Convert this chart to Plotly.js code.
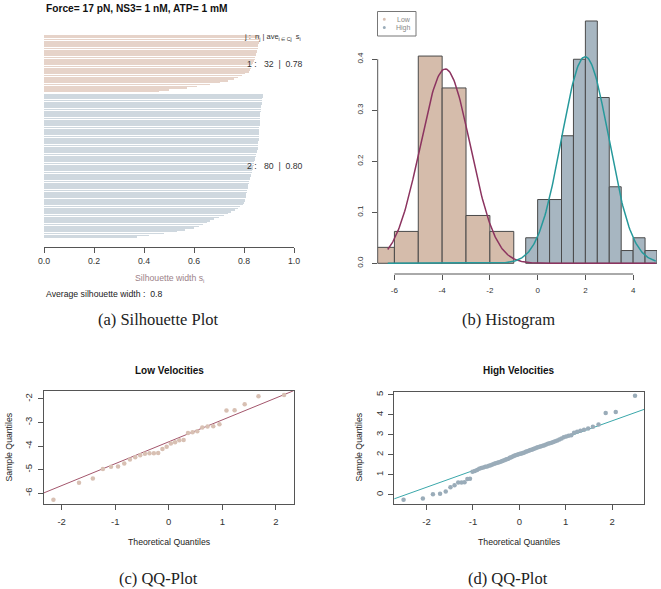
<!DOCTYPE html>
<html><head><meta charset="utf-8">
<script src="https://cdn.plot.ly/plotly-3.0.1.min.js"></script>
<style>html,body{margin:0;padding:0;background:#fff}#chart{width:661px;height:589px}</style>
</head><body><div id="chart"></div>
<script>
const W = 661, H = 589;

// ---- (a) silhouette widths, top to bottom ----
const silCluster1 = [0.862,0.861,0.860,0.859,0.858,0.857,0.856,0.854,0.852,0.850,0.848,0.846,0.844,0.842,
  0.838,0.835,0.832,0.829,0.826,0.822,0.818,0.805,0.790,0.775,0.760,0.735,0.705,0.665,0.610,0.570,0.500,0.460];
const silCluster2 = [0.875,0.874,0.873,0.872,0.871,0.870,0.869,0.868,0.867,0.866,
  0.865,0.865,0.864,0.864,0.863,0.863,0.862,0.862,0.861,0.861,0.860,0.860,0.859,0.859,0.858,0.858,0.857,0.857,0.856,0.856,0.855,
  0.853,0.851,0.849,0.847,0.845,0.843,0.841,0.840,0.838,
  0.836,0.834,0.832,0.830,0.828,0.826,0.824,0.822,
  0.820,0.818,0.817,0.815,0.814,0.812,0.811,0.809,0.808,0.806,0.805,
  0.805,0.800,0.795,0.785,0.775,0.762,0.748,0.735,0.720,0.700,0.680,0.665,0.650,0.635,0.620,0.600,0.565,0.530,0.480,0.420,0.370];
const silTicks = [0, 0.2, 0.4, 0.6, 0.8, 1.0];
const silTickText = ['0.0','0.2','0.4','0.6','0.8','1.0'];

// ---- (b)/(c)/(d) velocities (sorted sample quantiles) ----
const lowVel = [-6.28,-5.56,-5.38,-4.97,-4.88,-4.87,-4.74,-4.57,-4.47,-4.39,-4.33,-4.30,-4.30,-4.29,-4.12,-4.03,
  -3.89,-3.84,-3.75,-3.74,-3.45,-3.41,-3.37,-3.21,-3.17,-3.16,-3.07,-2.49,-2.48,-2.23,-1.89,-1.83];
const highVel = [-0.25,-0.18,0.03,0.05,0.17,0.38,0.48,0.62,0.62,0.63,0.79,0.80,
  1.15,1.19,1.24,1.30,1.34,1.37,1.40,1.42,1.45,1.48,
  1.52,1.55,1.58,1.60,1.63,1.66,1.69,1.72,1.75,1.78,1.81,1.85,1.88,1.92,1.95,1.98,
  2.01,2.03,2.05,2.07,2.09,2.12,2.15,2.18,2.21,2.24,2.26,2.29,2.32,2.35,2.38,2.41,2.43,2.46,2.48,
  2.52,2.55,2.58,2.61,2.64,2.68,2.72,2.77,2.82,2.88,2.92,2.95,2.98,
  3.10,3.15,3.20,3.26,3.32,3.41,
  3.52,4.09,4.14,4.95];
const lowTheo = [-2.154,-1.676,-1.418,-1.230,-1.078,-0.947,-0.831,-0.725,-0.626,-0.533,-0.445,-0.360,-0.278,-0.197,-0.118,-0.039,
  0.039,0.118,0.197,0.278,0.360,0.445,0.533,0.626,0.725,0.831,0.947,1.078,1.230,1.418,1.676,2.154];
const highTheo = [-2.496,-2.080,-1.863,-1.709,-1.587,-1.485,-1.397,-1.318,-1.247,-1.181,-1.120,-1.064,-1.010,-0.959,-0.911,-0.865,
  -0.820,-0.776,-0.734,-0.694,-0.655,-0.616,-0.579,-0.542,-0.507,-0.471,-0.437,-0.402,-0.369,-0.335,-0.302,-0.270,-0.237,-0.205,
  -0.173,-0.141,-0.110,-0.078,-0.047,-0.016,0.016,0.047,0.078,0.110,0.141,0.173,0.205,0.237,0.270,0.302,0.335,0.369,0.402,0.437,
  0.471,0.507,0.542,0.579,0.616,0.655,0.694,0.734,0.776,0.820,0.865,0.911,0.959,1.010,1.064,1.120,1.181,1.247,1.318,1.397,1.485,
  1.587,1.709,1.863,2.080,2.496];

// fitted normal (mean, sd) and qq-lines (intercept, slope)
const lowFit = [-3.87, 1.047];
const highFit = [1.99, 0.985];
const lowLine = [-3.82, 0.929];
const highLine = [2.04, 0.83];

const histXTicks = [-6,-4,-2,0,2,4];
const histXText = ['-6','-4','-2','0','2','4'];
const histYTicks = [0,0.1,0.2,0.3,0.4];
const histYText = ['0.0','0.1','0.2','0.3','0.4'];
const qqLowX = [-2,-1,0,1,2], qqLowXT = ['-2','-1','0','1','2'];
const qqLowY = [-6,-5,-4,-3,-2], qqLowYT = ['-6','-5','-4','-3','-2'];
const qqHighX = [-2,-1,0,1,2], qqHighXT = ['-2','-1','0','1','2'];
const qqHighY = [0,1,2,3,4,5], qqHighYT = ['0','1','2','3','4','5'];

const C_LOW_SIL = '#e6d3c9', C_HIGH_SIL = '#cfd8df';
const C_LOW_HIST = '#d5bcab', C_HIGH_HIST = '#a7b6c1';
const C_LOW_CURVE = '#8c3460', C_HIGH_CURVE = '#26999b';
const C_LOW_PT = '#d8c0b3', C_HIGH_PT = '#9aacb9';
const C_LOW_QQL = '#a3566c', C_HIGH_QQL = '#3aa7aa';
const AX = '#555';
const SANS = 'Liberation Sans, Arial, sans-serif';
const SERIF = 'Liberation Serif, Times New Roman, serif';

const px = v => v / W;
const py = v => 1 - v / H;

// silhouette bar positions
const silY1 = silCluster1.map((_, i) => i);
const silY2 = silCluster2.map((_, i) => silCluster1.length + 1 + i);

// fitted curves over data range
const allVel = lowVel.concat(highVel);
const gMin = Math.min(...allVel), gMax = Math.max(...allVel);
const gridX = [];
for (let i = 0; i <= 300; i++) gridX.push(gMin + (gMax - gMin) * i / 300);
const dens = (x, p) => Math.exp(-0.5 * Math.pow((x - p[0]) / p[1], 2)) / (p[1] * Math.sqrt(2 * Math.PI));

const traces = [
  {type:'bar', orientation:'h', x:silCluster1, y:silY1, width:0.78, marker:{color:C_LOW_SIL, line:{width:0}}, xaxis:'x', yaxis:'y'},
  {type:'bar', orientation:'h', x:silCluster2, y:silY2, width:0.78, marker:{color:C_HIGH_SIL, line:{width:0}}, xaxis:'x', yaxis:'y'},
  {type:'histogram', x:lowVel, histnorm:'probability density', xbins:{start:-7, end:-1, size:1},
    marker:{color:C_LOW_HIST, line:{color:'#4a4a4a', width:1}}, xaxis:'x2', yaxis:'y2'},
  {type:'histogram', x:highVel, histnorm:'probability density', xbins:{start:-0.5, end:5, size:0.5},
    marker:{color:C_HIGH_HIST, line:{color:'#4a4a4a', width:1}}, xaxis:'x2', yaxis:'y2'},
  {type:'scatter', mode:'lines', x:gridX, y:gridX.map(x => dens(x, lowFit)), line:{color:C_LOW_CURVE, width:1.5}, xaxis:'x2', yaxis:'y2'},
  {type:'scatter', mode:'lines', x:gridX, y:gridX.map(x => dens(x, highFit)), line:{color:C_HIGH_CURVE, width:1.5}, xaxis:'x2', yaxis:'y2'},
  {type:'scatter', mode:'lines', x:[-3, 3], y:[-3, 3].map(x => lowLine[0] + lowLine[1] * x), line:{color:C_LOW_QQL, width:1}, xaxis:'x3', yaxis:'y3'},
  {type:'scatter', mode:'markers', x:lowTheo, y:lowVel, marker:{color:C_LOW_PT, size:4.5}, xaxis:'x3', yaxis:'y3'},
  {type:'scatter', mode:'lines', x:[-3, 3], y:[-3, 3].map(x => highLine[0] + highLine[1] * x), line:{color:C_HIGH_QQL, width:1}, xaxis:'x4', yaxis:'y4'},
  {type:'scatter', mode:'markers', x:highTheo, y:highVel, marker:{color:C_HIGH_PT, size:4.5}, xaxis:'x4', yaxis:'y4'}
];

const tickFont = s => ({family:SANS, size:s, color:'#333'});
const baseAx = {showgrid:false, zeroline:false, fixedrange:true, ticks:'outside', ticklen:5, tickwidth:1, tickcolor:AX, linecolor:AX, linewidth:1, tickmode:'array', ticklabelposition:'outside'};

const lowRangeY = [-6.458, -1.652];
const highRangeY = [-0.458, 5.158];

const layout = {
  width:W, height:H, margin:{l:0,r:0,t:0,b:0}, paper_bgcolor:'#fff', plot_bgcolor:'rgba(0,0,0,0)',
  showlegend:false, barmode:'overlay', bargap:0, hovermode:false,
  xaxis: Object.assign({}, baseAx, {domain:[px(44), px(294)], range:[0,1], anchor:'y', showline:true,
    tickvals:silTicks, ticktext:silTickText, tickfont:tickFont(8.7), ticklabelstandoff:1}),
  yaxis: {domain:[py(247), py(35)], range:[117.5, -0.5], visible:false, fixedrange:true, anchor:'x'},
  xaxis2: Object.assign({}, baseAx, {domain:[px(377.7), px(657)], range:[-6.7, 5.0], anchor:'y2', showline:false,
    tickvals:histXTicks, ticktext:histXText, tickfont:tickFont(8), ticklabelstandoff:3}),
  yaxis2: Object.assign({}, baseAx, {domain:[py(274), py(11.3)], range:[-0.021, 0.494], anchor:'x2', showline:false,
    tickvals:histYTicks, ticktext:histYText, tickangle:-90, tickfont:tickFont(8), ticklabelstandoff:6}),
  xaxis3: Object.assign({}, baseAx, {domain:[px(44), px(293.5)], range:[-2.33, 2.33], anchor:'y3', showline:true, mirror:true,
    tickvals:qqLowX, ticktext:qqLowXT, tickfont:tickFont(9.5), ticklabelstandoff:4}),
  yaxis3: Object.assign({}, baseAx, {domain:[py(504), py(390.7)], range:lowRangeY, anchor:'x3', showline:true, mirror:true,
    tickvals:qqLowY, ticktext:qqLowYT, tickangle:-90, tickfont:tickFont(9.5), ticklabelstandoff:2}),
  xaxis4: Object.assign({}, baseAx, {domain:[px(394.3), px(644.3)], range:[-2.696, 2.696], anchor:'y4', showline:true, mirror:true,
    tickvals:qqHighX, ticktext:qqHighXT, tickfont:tickFont(9.5), ticklabelstandoff:4}),
  yaxis4: Object.assign({}, baseAx, {domain:[py(504), py(391.7)], range:highRangeY, anchor:'x4', showline:true, mirror:true,
    tickvals:qqHighY, ticktext:qqHighYT, tickangle:-90, tickfont:tickFont(9.5), ticklabelstandoff:2}),
  shapes: [
    {type:'line', xref:'x2', yref:'paper', x0:histXTicks[0], x1:histXTicks[histXTicks.length-1], y0:py(274), y1:py(274), line:{color:AX, width:1}},
    {type:'line', xref:'paper', yref:'y2', x0:px(377.7), x1:px(377.7), y0:histYTicks[0], y1:histYTicks[histYTicks.length-1], line:{color:AX, width:1}},
    {type:'rect', xref:'paper', yref:'paper', x0:px(377.5), x1:px(416), y0:py(36), y1:py(11.5), line:{color:'#777', width:1}, fillcolor:'rgba(0,0,0,0)'},
    {type:'circle', xref:'paper', yref:'paper', x0:px(382.8), x1:px(385.8), y0:py(20.8), y1:py(17.8), line:{width:0}, fillcolor:C_LOW_PT},
    {type:'circle', xref:'paper', yref:'paper', x0:px(382.8), x1:px(385.8), y0:py(29), y1:py(26), line:{width:0}, fillcolor:C_HIGH_PT}
  ],
  annotations: []
};

function ann(text, x, y, opts) {
  layout.annotations.push(Object.assign({text:text, xref:'paper', yref:'paper', x:px(x), y:py(y), showarrow:false,
    xanchor:'center', yanchor:'middle', font:{family:SANS, size:9, color:'#222'}}, opts || {}));
}
ann('<b>Force= 17 pN, NS3= 1 nM, ATP= 1 mM</b>', 44, 8, {xanchor:'left', font:{family:SANS, size:10.2, color:'#111'}});
ann('j :  n<sub>j</sub> | ave<sub>i ∈ Cj</sub>  s<sub>i</sub>', 303, 37, {xanchor:'right', font:{family:SANS, size:7.5, color:'#333'}});
ann('1 :   ' + silCluster1.length + '  |  0.78', 305, 64, {xanchor:'right', font:{family:SANS, size:8.7, color:'#333'}});
ann('2 :   ' + silCluster2.length + '  |  0.80', 305, 166, {xanchor:'right', font:{family:SANS, size:8.7, color:'#333'}});
ann('Silhouette width s<sub>i</sub>', 169, 279, {font:{family:SANS, size:8.7, color:'#9c8289'}});
ann('Average silhouette width :  0.8', 44, 294, {xanchor:'left', font:{family:SANS, size:8.7, color:'#222'}});
ann('(a) Silhouette Plot', 158, 319, {font:{family:SERIF, size:16.5, color:'#222'}});
ann('(b) Histogram', 508, 319, {font:{family:SERIF, size:16.5, color:'#222'}});
ann('(c) QQ-Plot', 158, 578, {font:{family:SERIF, size:16.5, color:'#222'}});
ann('(d) QQ-Plot', 508, 578, {font:{family:SERIF, size:16.5, color:'#222'}});
ann('<b>Low Velocities</b>', 169, 370, {font:{family:SANS, size:10, color:'#111'}});
ann('<b>High Velocities</b>', 519, 370, {font:{family:SANS, size:10, color:'#111'}});
ann('Theoretical Quantiles', 169, 542, {font:{family:SANS, size:8.7, color:'#222'}});
ann('Theoretical Quantiles', 519, 542, {font:{family:SANS, size:8.7, color:'#222'}});
ann('Sample Quantiles', 8.5, 447, {textangle:-90, font:{family:SANS, size:8.7, color:'#222'}});
ann('Sample Quantiles', 358.5, 447, {textangle:-90, font:{family:SANS, size:8.7, color:'#222'}});
// legend labels
ann('Low', 403.5, 19.3, {font:{family:SANS, size:7, color:'#888'}});
ann('High', 403.5, 27.5, {font:{family:SANS, size:7, color:'#888'}});

Plotly.newPlot('chart', traces, layout, {staticPlot:true, displayModeBar:false});
</script>
</body></html>
